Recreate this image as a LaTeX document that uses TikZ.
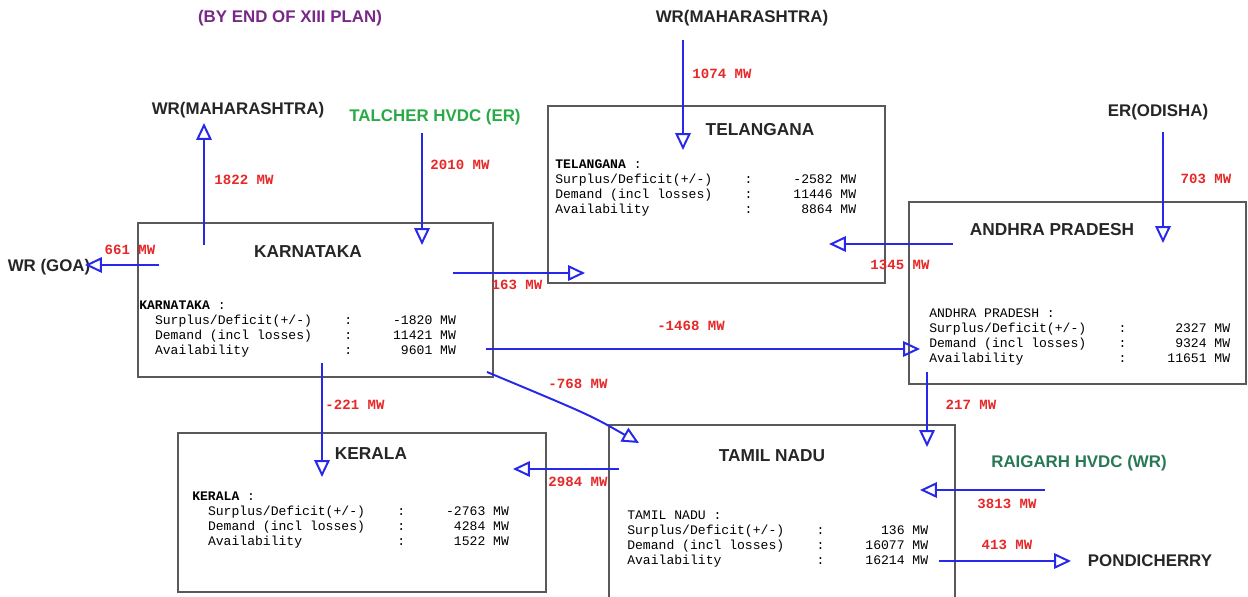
\documentclass[tikz,border=0pt]{standalone}
\usepackage{fontspec}
\setmainfont{Liberation Sans}
\setmonofont{Liberation Mono}
\usetikzlibrary{arrows.meta,fit}

\definecolor{flowblue}{RGB}{40,40,235}
\definecolor{flowred}{RGB}{230,40,40}
\definecolor{hvdcgreen}{RGB}{40,170,70}
\definecolor{hvdcteal}{RGB}{40,120,85}
\definecolor{planpurple}{RGB}{120,40,135}

\newcommand{\statline}[2]{\makebox[134.7pt][l]{#1}:\makebox[73.7pt][r]{#2}}
\newcommand{\statblock}[5]{#2 :\\
  \hspace*{#1}\statline{Surplus/Deficit(+/-)}{#3 MW}\\
  \hspace*{#1}\statline{Demand (incl losses)}{#4 MW}\\
  \hspace*{#1}\statline{Availability}{#5 MW}}

\tikzset{
  statebox/.style={draw=black!65, line width=1.1pt, inner sep=0pt},
  statetitle/.style={font=\bfseries\fontsize{12.3}{14}\selectfont, text=black!85},
  statetext/.style={
    font=\ttfamily\fontsize{9.3}{10.6}\selectfont,
    align=left,
    anchor=north west,
    inner sep=0pt
  },
  region/.style={font=\bfseries\fontsize{12}{14}\selectfont, text=black!85},
  flowval/.style={font=\ttfamily\bfseries\fontsize{10}{12}\selectfont, text=flowred},
  flow/.style={
    draw=flowblue,
    line width=1.4pt,
    -{Triangle[open,length=12pt,width=11pt]}
  }
}

\begin{document}
\begin{tikzpicture}[x=0.025cm, y=-0.025cm]
\useasboundingbox (0,0) rectangle (1248,597);

% state boxes
\node[statebox, fit={(138,223) (493,377)}] (kar) {};
\node[statebox, fit={(548,106) (885,283)}] (tel) {};
\node[statebox, fit={(909,202) (1246,384)}] (ap) {};
\node[statebox, fit={(178,433) (546,592)}] (ker) {};
\node[statebox, fit={(609,425) (955,620)}] (tn) {};

\node[statetitle] (kartitle) at (308,252) {KARNATAKA};
\node[statetitle] (teltitle) at (760,130) {TELANGANA};
\node[statetitle] (aptitle) at (1052,230) {ANDHRA PRADESH};
\node[statetitle] (kertitle) at (371,454) {KERALA};
\node[statetitle] (tntitle) at (772,456) {TAMIL NADU};

\node[statetext] (kartext) at (139,300.5)
  {\statblock{11.2pt}{\textbf{KARNATAKA}}{-1820}{11421}{9601}};
\node[statetext] (teltext) at (555,159.5)
  {\statblock{0pt}{\textbf{TELANGANA}}{-2582}{11446}{8864}};
\node[statetext] (aptext) at (929,308.5)
  {\statblock{0pt}{ANDHRA PRADESH}{2327}{9324}{11651}};
\node[statetext] (kertext) at (192,491.5)
  {\statblock{11.2pt}{\textbf{KERALA}}{-2763}{4284}{1522}};
\node[statetext] (tntext) at (627,510.5)
  {\statblock{0pt}{TAMIL NADU}{136}{16077}{16214}};

% neighbouring regions
\node[region, text=planpurple] (plan) at (290,18) {(BY END OF XIII PLAN)};
\node[region] (wrmw) at (238,110) {WR(MAHARASHTRA)};
\node[region, text=hvdcgreen] (talcher) at (435,117) {TALCHER HVDC (ER)};
\node[region] (goa) at (49,267) {WR (GOA)};
\node[region] (wrme) at (742,18) {WR(MAHARASHTRA)};
\node[region] (odisha) at (1158,112) {ER(ODISHA)};
\node[region, text=hvdcteal] (raigarh) at (1079,463) {RAIGARH HVDC (WR)};
\node[region] (pondy) at (1150,561) {PONDICHERRY};

% flow values
\node[flowval] (f1822) at (244,180) {1822 MW};
\node[flowval] (f2010) at (460,165) {2010 MW};
\node[flowval] (f661) at (130,250) {661 MW};
\node[flowval] (f163) at (517,285) {163 MW};
\node[flowval] (f1074) at (722,74) {1074 MW};
\node[flowval] (f703) at (1206,179) {703 MW};
\node[flowval] (f1345) at (900,265) {1345 MW};
\node[flowval] (f1468) at (691,326) {-1468 MW};
\node[flowval] (f768) at (578,384) {-768 MW};
\node[flowval] (f221) at (355,405) {-221 MW};
\node[flowval] (f2984) at (578,482) {2984 MW};
\node[flowval] (f217) at (971,405) {217 MW};
\node[flowval] (f3813) at (1007,504) {3813 MW};
\node[flowval] (f413) at (1007,545) {413 MW};

% arrow ends
\coordinate (kar-up) at (204,245);
\coordinate (wrmw-in) at (204,123);
\coordinate (talcher-out) at (422,133);
\coordinate (kar-in) at (422,245);
\coordinate (kar-w) at (159,265);
\coordinate (goa-in) at (85,265);
\coordinate (kar-e) at (453,273);
\coordinate (tel-w) at (585,273);
\coordinate (wrme-out) at (683,40);
\coordinate (tel-in) at (683,150);
\coordinate (odisha-out) at (1163,132);
\coordinate (ap-in) at (1163,243);
\coordinate (ap-w) at (953,244);
\coordinate (tel-e) at (829,244);
\coordinate (kar-se) at (486,349);
\coordinate (ap-sw) at (920,349);
\coordinate (kar-s2) at (487,372);
\coordinate (tn-nw) at (639,443);
\coordinate (kar-s) at (322,363);
\coordinate (ker-in) at (322,477);
\coordinate (tn-w) at (619,469);
\coordinate (ker-e) at (513,469);
\coordinate (ap-s) at (927,372);
\coordinate (tn-ne) at (927,447);
\coordinate (raigarh-out) at (1045,490);
\coordinate (tn-e) at (920,490);
\coordinate (tn-se) at (939,561);
\coordinate (pondy-in) at (1071,561);

\draw[flow] (kar-up) -- (wrmw-in);
\draw[flow] (talcher-out) -- (kar-in);
\draw[flow] (kar-w) -- (goa-in);
\draw[flow] (kar-e) -- (tel-w);
\draw[flow] (wrme-out) -- (tel-in);
\draw[flow] (odisha-out) -- (ap-in);
\draw[flow] (ap-w) -- (tel-e);
\draw[flow] (kar-se) -- (ap-sw);
\draw[flow] (kar-s2) .. controls (590,415) .. (tn-nw);
\draw[flow] (kar-s) -- (ker-in);
\draw[flow] (tn-w) -- (ker-e);
\draw[flow] (ap-s) -- (tn-ne);
\draw[flow] (raigarh-out) -- (tn-e);
\draw[flow] (tn-se) -- (pondy-in);

\end{tikzpicture}
\end{document}
